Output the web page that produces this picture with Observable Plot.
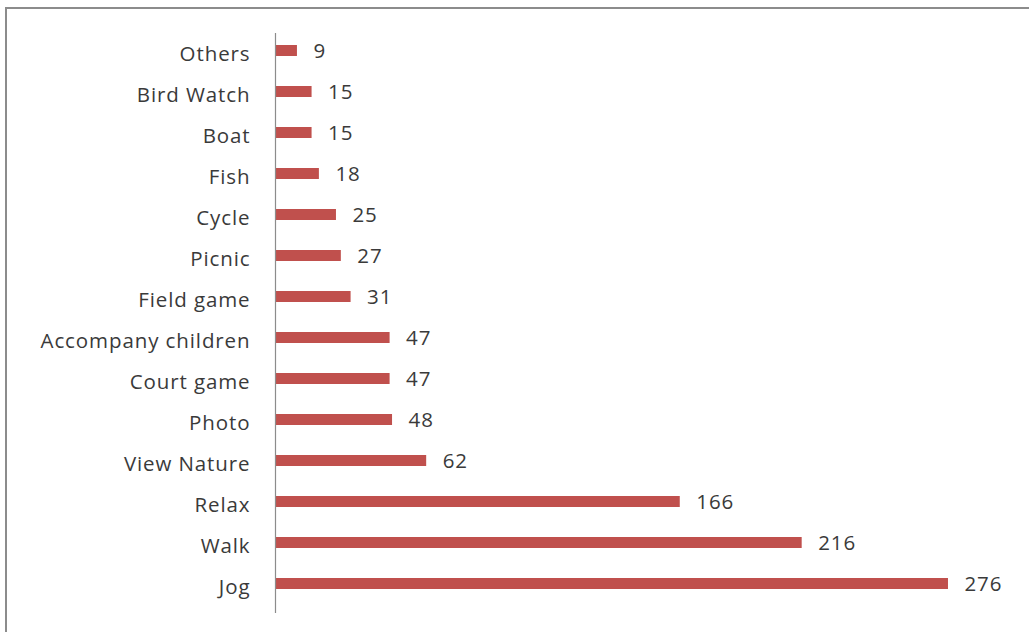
<!DOCTYPE html>
<html>
<head>
<meta charset="utf-8">
<script src="https://cdn.jsdelivr.net/npm/d3@7"></script>
<script src="https://cdn.jsdelivr.net/npm/@observablehq/plot@0.6"></script>
<style>
  html, body { margin: 0; padding: 0; background: #fff; overflow: hidden; }
  #frame { position: absolute; left: 5px; top: 7px; width: 1040px; height: 640px; border: 2px solid #8c8c8c; box-sizing: border-box; }
  #chart { position: absolute; left: 0; top: 0; }
  #chart svg text { letter-spacing: 0.9px; }
</style>
</head>
<body>
<div id="frame"></div>
<div id="chart"></div>
<script>
const categories = ["Others", "Bird Watch", "Boat", "Fish", "Cycle", "Picnic", "Field game", "Accompany children", "Court game", "Photo", "View Nature", "Relax", "Walk", "Jog"];
const values = [9, 15, 15, 18, 25, 27, 31, 47, 47, 48, 62, 166, 216, 276];

const data = categories.map((c, i) => ({activity: c, count: values[i]}));

const chart = Plot.plot({
  width: 1029,
  height: 632,
  marginLeft: 275,
  marginRight: 22.5,
  marginTop: 33,
  marginBottom: 19,
  style: {fontFamily: "'Open Sans', sans-serif", fontSize: "20.5px", color: "#3a3a3a", background: "transparent"},
  x: {domain: [0, 300], axis: null},
  y: {domain: categories, padding: 0, axis: null},
  marks: [
    Plot.axisY({tickSize: 0, tickPadding: 25, dy: -3, label: null}),
    Plot.barX(data, {x: "count", y: "activity", fill: "#C0504D", insetTop: 9, insetBottom: 21}),
    Plot.text(data, {x: "count", y: "activity", text: d => String(d.count), textAnchor: "start", dx: 16, dy: -6, fill: "#3a3a3a", fontSize: 20.5}),
    Plot.ruleX([0], {stroke: "#8c8c8c", strokeWidth: 1.2})
  ]
});
document.getElementById("chart").appendChild(chart);
</script>
</body>
</html>
